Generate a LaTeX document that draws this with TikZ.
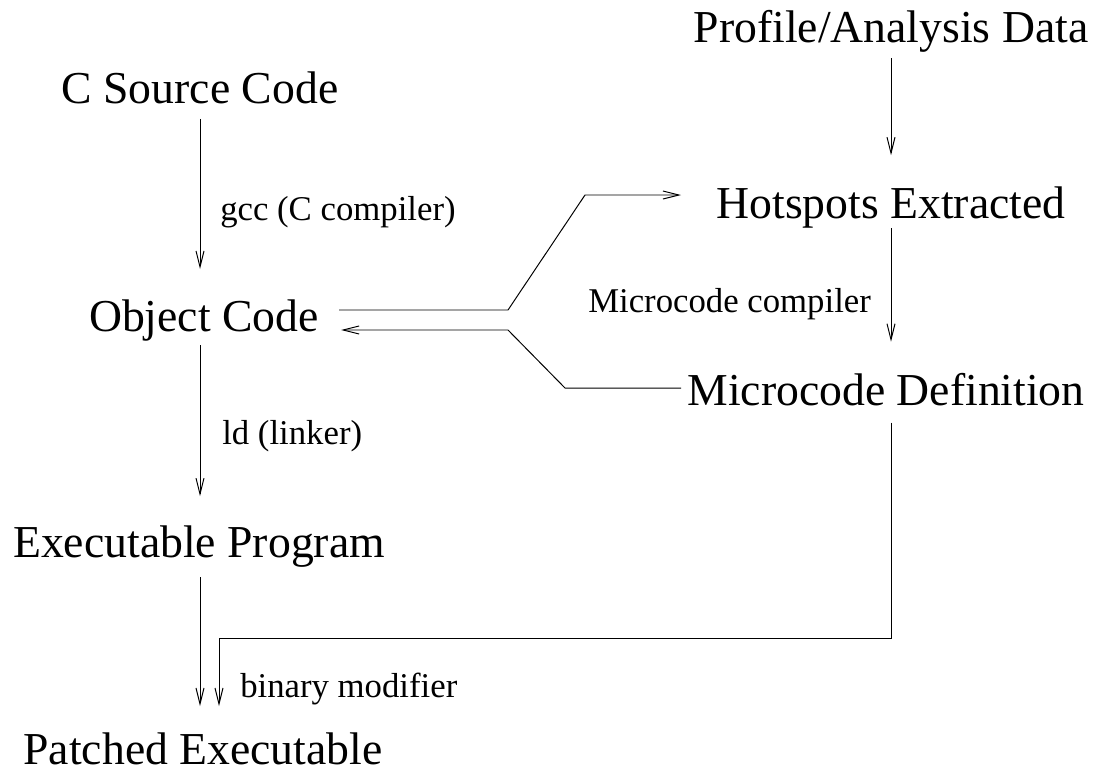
\documentclass[tikz,border=0pt]{standalone}
\usepackage{fontspec}
\setmainfont{Liberation Serif}
\usetikzlibrary{arrows.meta}

\begin{document}
\begin{tikzpicture}[x=0.025cm,y=-0.025cm,
  big/.style={inner sep=0pt,anchor=base,font=\fontsize{32.5}{36}\selectfont},
  small/.style={inner sep=0pt,anchor=base west,font=\fontsize{24.7}{28}\selectfont},
  arr/.style={-{Straight Barb[length=0.4cm,width=0.2cm]},line width=0.7pt}]
 \useasboundingbox (0,0) rectangle (1098,777);
 % the two flows
 \node[big] (prof) at (891,42) {Profile/Analysis Data};
 \node[big] (csrc) at (200,103) {C Source Code};
 \node[big] (hot) at (891,218) {Hotspots Extracted};
 \node[big] (obj) at (204,331) {Object Code};
 \node[big] (mdef) at (886,405) {Microcode Definition};
 \node[big] (exe) at (199,557) {Executable Program};
 \node[big] (pat) at (203,764) {Patched Executable};
 % tools
 \node[small] (gcc) at (220,220) {gcc (C compiler)};
 \node[small] (mcc) at (588,312) {Microcode compiler};
 \node[small] (ld) at (222,444) {ld (linker)};
 \node[small] (bin) at (240,697) {binary modifier};
 \coordinate (fa) at (508,310);
 \coordinate (fb) at (585,195);
 \coordinate (fc) at (565,388);
 \coordinate (fd) at (508,330);
 \coordinate (kink) at (219,638);
 \draw[arr,shorten <=0.38cm,shorten >=0.75cm] (csrc.south -| 200,0) -- (obj.north -| 200,0);
 \draw[arr,shorten <=0.1cm,shorten >=0.72cm] (obj.south -| 200,0) -- (exe.north -| 200,0);
 \draw[arr,shorten <=0.25cm,shorten >=0.65cm] (exe.south -| 200,0) -- (pat.north -| 200,0);
 \draw[arr,shorten <=0.15cm,shorten >=0.77cm] (prof.south) -- (hot.north);
 \draw[arr,shorten >=0.77cm] (hot.south) -- (hot.south |- mdef.north);
 \draw[arr,shorten <=0.42cm,shorten >=0.65cm] (mdef.south -| hot) |- (kink) -- (kink |- pat.north);
 \draw[arr,shorten <=0.5cm,shorten >=0.88cm] (obj.east |- fa) -- (fa) -- (fb) -- (fb -| hot.west);
 \draw[arr,shorten <=0.15cm,shorten >=0.55cm] (fc -| mdef.west) -- (fc) -- (fd) -- (fd -| obj.east);
\end{tikzpicture}
\end{document}
